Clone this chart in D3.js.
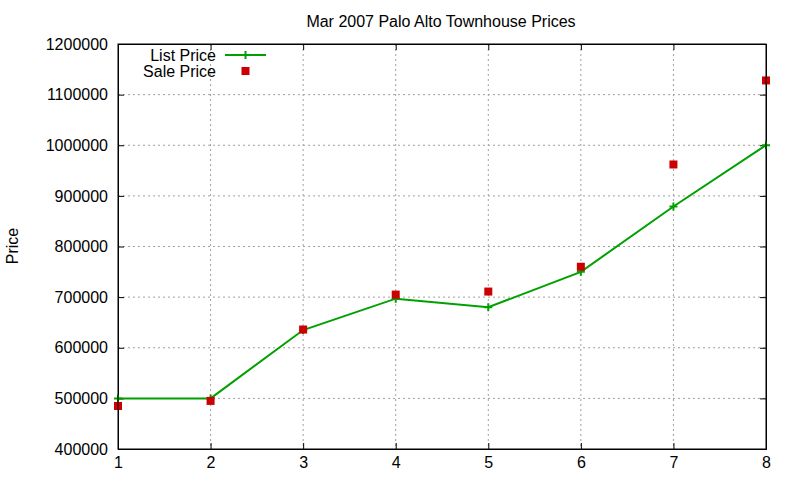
<!DOCTYPE html>
<html>
<head>
<meta charset="utf-8">
<script src="https://cdn.jsdelivr.net/npm/d3@7"></script>
<style>
  body { margin: 0; background: #fff; }
  text { font-family: "Liberation Sans", Arial, sans-serif; fill: #000; }
</style>
</head>
<body>
<svg id="chart" width="800" height="480"></svg>
<script>
var months = [1, 2, 3, 4, 5, 6, 7, 8];
var listPrice = [500000, 500000, 635000, 697000, 680000, 750000, 879000, 1000000];
var salePrice = [485000, 495000, 636000, 705000, 711000, 760000, 962000, 1128000];
var yTicks = [400000, 500000, 600000, 700000, 800000, 900000, 1000000, 1100000, 1200000];

var margin = { top: 44, right: 34, bottom: 31, left: 118 };
var width = 800 - margin.left - margin.right;
var height = 480 - margin.top - margin.bottom;

var svg = d3.select("#chart");
var g = svg.append("g")
  .attr("transform", "translate(" + margin.left + "," + margin.top + ")");

var x = d3.scaleLinear().domain([1, 8]).range([0, width]);
var y = d3.scaleLinear().domain([400000, 1200000]).range([height, 0]);

var green = "#00a000";
var red = "#cc0000";

// grid
g.append("g").selectAll("line")
  .data(months.slice(1, -1))
  .enter().append("line")
  .attr("x1", function(d) { return x(d); })
  .attr("x2", function(d) { return x(d); })
  .attr("y1", 0).attr("y2", height)
  .attr("stroke", "#a0a0a0").attr("stroke-dasharray", "2,3");

g.append("g").selectAll("line")
  .data(yTicks.slice(1, -1))
  .enter().append("line")
  .attr("x1", 0).attr("x2", width)
  .attr("y1", function(d) { return y(d); })
  .attr("y2", function(d) { return y(d); })
  .attr("stroke", "#a0a0a0").attr("stroke-dasharray", "2,3");

// axes (ticks inward, mirrored)
var axisBottom = g.append("g")
  .attr("transform", "translate(0," + height + ")")
  .call(d3.axisBottom(x).tickValues(months).tickSize(-6).tickPadding(8).tickFormat(d3.format("d")));
var axisTop = g.append("g")
  .call(d3.axisTop(x).tickValues(months).tickSize(-6).tickFormat(""));
var axisLeft = g.append("g")
  .call(d3.axisLeft(y).tickValues(yTicks).tickSize(-6).tickPadding(10).tickFormat(d3.format("d")));
var axisRight = g.append("g")
  .attr("transform", "translate(" + width + ",0)")
  .call(d3.axisRight(y).tickValues(yTicks).tickSize(-6).tickFormat(""));

[axisBottom, axisTop, axisLeft, axisRight].forEach(function(a) {
  a.select(".domain").attr("stroke", "#000").attr("stroke-width", 1);
  a.selectAll(".tick line").attr("stroke", "#000");
  a.selectAll("text").style("font-size", "16px").attr("fill", "#000");
});

// list price line
var line = d3.line()
  .x(function(d, i) { return x(months[i]); })
  .y(function(d) { return y(d); });

g.append("path")
  .datum(listPrice)
  .attr("d", line)
  .attr("fill", "none")
  .attr("stroke", green)
  .attr("stroke-width", 2);

function plusPath(cx, cy, r) {
  return "M" + (cx - r) + "," + cy + "H" + (cx + r) + "M" + cx + "," + (cy - r) + "V" + (cy + r);
}

g.append("g").selectAll("path")
  .data(listPrice)
  .enter().append("path")
  .attr("d", function(d, i) { return plusPath(x(months[i]), y(d), 4); })
  .attr("stroke", green)
  .attr("stroke-width", 2);

// sale price squares
g.append("g").selectAll("rect")
  .data(salePrice)
  .enter().append("rect")
  .attr("x", function(d, i) { return x(months[i]) - 4; })
  .attr("y", function(d) { return y(d) - 4; })
  .attr("width", 8).attr("height", 8)
  .attr("fill", red);

// border on top
g.append("rect")
  .attr("width", width).attr("height", height)
  .attr("fill", "none").attr("stroke", "#000").attr("stroke-width", 1);

// legend
var legend = g.append("g");
legend.append("text")
  .attr("x", 98).attr("y", 11)
  .attr("dy", "0.35em")
  .attr("text-anchor", "end")
  .style("font-size", "16px")
  .text("List Price");
legend.append("line")
  .attr("x1", 107).attr("x2", 148)
  .attr("y1", 11).attr("y2", 11)
  .attr("stroke", green).attr("stroke-width", 2);
legend.append("path")
  .attr("d", plusPath(127.5, 11, 4))
  .attr("stroke", green).attr("stroke-width", 2);
legend.append("text")
  .attr("x", 98).attr("y", 27)
  .attr("dy", "0.35em")
  .attr("text-anchor", "end")
  .style("font-size", "16px")
  .text("Sale Price");
legend.append("rect")
  .attr("x", 123.5).attr("y", 23)
  .attr("width", 8).attr("height", 8)
  .attr("fill", red);

// title and axis label
svg.append("text")
  .attr("x", 441).attr("y", 21)
  .attr("dy", "0.35em")
  .attr("text-anchor", "middle")
  .style("font-size", "16px")
  .text("Mar 2007 Palo Alto Townhouse Prices");

svg.append("text")
  .attr("transform", "translate(12,246) rotate(-90)")
  .attr("dy", "0.35em")
  .attr("text-anchor", "middle")
  .style("font-size", "16px")
  .text("Price");
</script>
</body>
</html>
